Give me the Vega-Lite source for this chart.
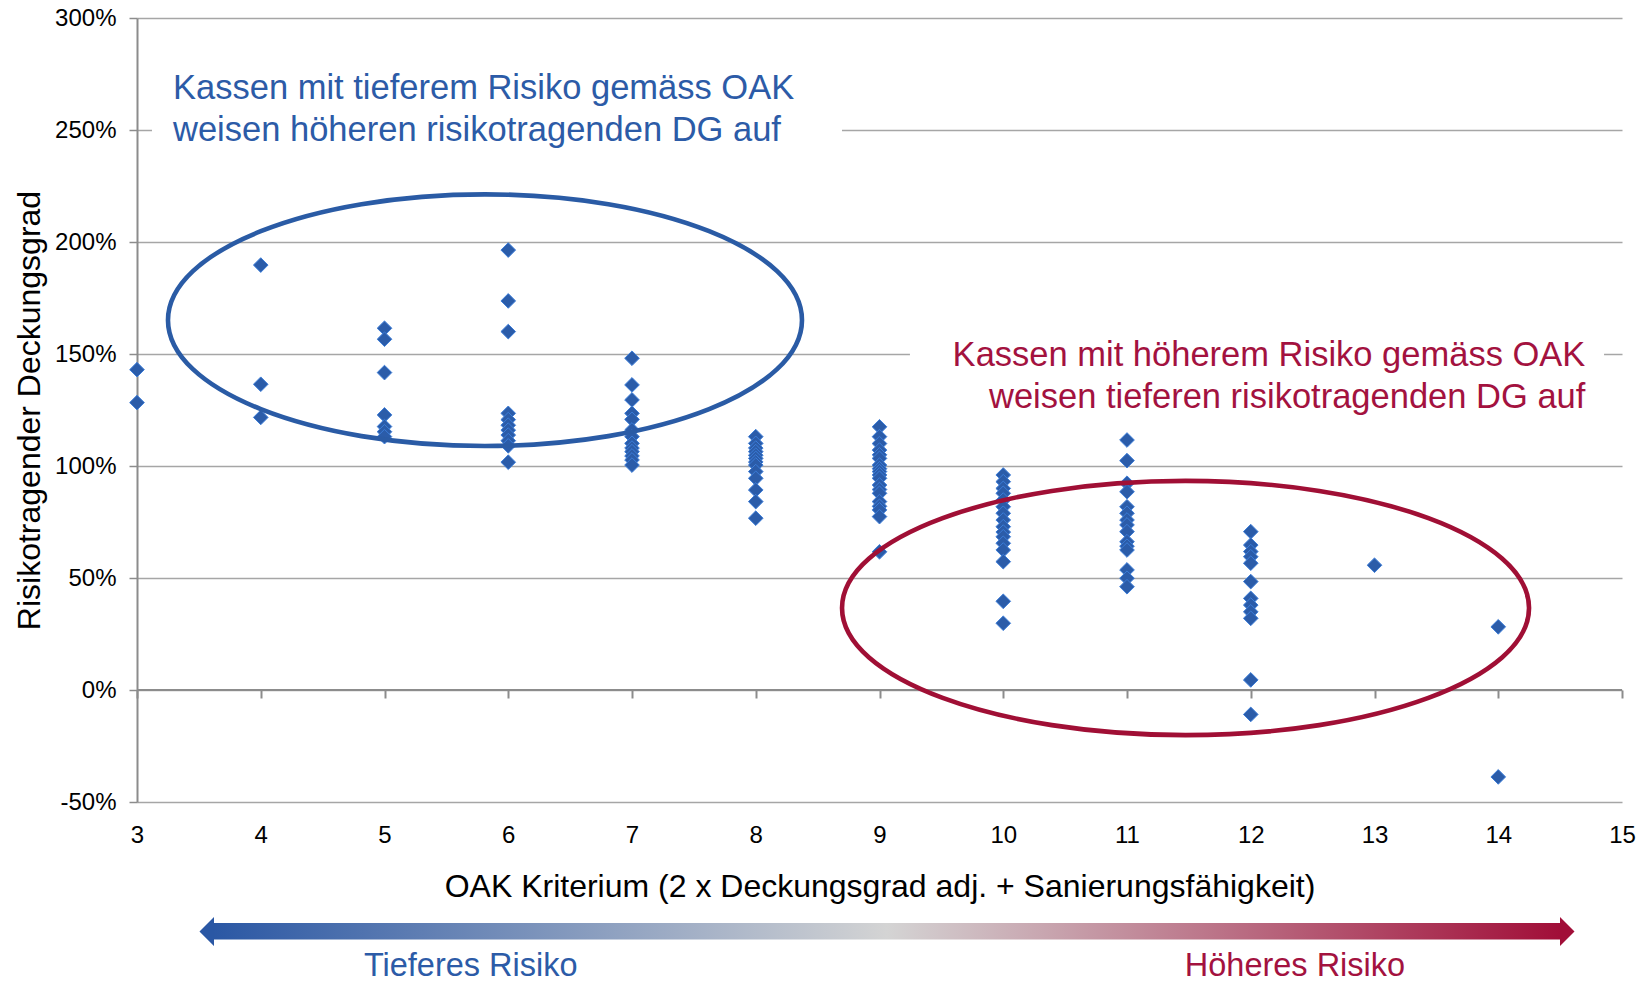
{
  "$schema": "https://vega.github.io/schema/vega-lite/v6.json",
  "autosize": {"type": "none"},
  "width": 1485,
  "height": 784,
  "padding": {"left": 137, "top": 18, "right": 22, "bottom": 180},
  "background": "white",
  "config": {
    "view": {"stroke": null},
    "font": "Liberation Sans",
    "axis": {"labelFont": "Liberation Sans", "titleFont": "Liberation Sans", "labelColor": "#000000", "titleColor": "#000000", "titleFontWeight": "normal"},
    "text": {"font": "Liberation Sans"}
  },
  "datasets": {
    "kassen": [
      {"oak": 3, "dg": 143}, {"oak": 3, "dg": 128.3},
      {"oak": 4, "dg": 189.7}, {"oak": 4, "dg": 136.5}, {"oak": 4, "dg": 121.7},
      {"oak": 5, "dg": 161.5}, {"oak": 5, "dg": 156.6}, {"oak": 5, "dg": 141.7}, {"oak": 5, "dg": 122.8}, {"oak": 5, "dg": 117.6}, {"oak": 5, "dg": 115.3}, {"oak": 5, "dg": 113.1},
      {"oak": 6, "dg": 196.4}, {"oak": 6, "dg": 173.7}, {"oak": 6, "dg": 160}, {"oak": 6, "dg": 123.5}, {"oak": 6, "dg": 120.7}, {"oak": 6, "dg": 118.2}, {"oak": 6, "dg": 116}, {"oak": 6, "dg": 113.8}, {"oak": 6, "dg": 111.3}, {"oak": 6, "dg": 109}, {"oak": 6, "dg": 101.7},
      {"oak": 7, "dg": 148.1}, {"oak": 7, "dg": 136.2}, {"oak": 7, "dg": 129.5}, {"oak": 7, "dg": 123.5}, {"oak": 7, "dg": 120.8}, {"oak": 7, "dg": 116.1}, {"oak": 7, "dg": 113.1}, {"oak": 7, "dg": 110.1}, {"oak": 7, "dg": 108}, {"oak": 7, "dg": 106.4}, {"oak": 7, "dg": 104.5}, {"oak": 7, "dg": 102.7}, {"oak": 7, "dg": 100.4},
      {"oak": 8, "dg": 113.1}, {"oak": 8, "dg": 110.1}, {"oak": 8, "dg": 108}, {"oak": 8, "dg": 106.4}, {"oak": 8, "dg": 104.8}, {"oak": 8, "dg": 103.4}, {"oak": 8, "dg": 101.8}, {"oak": 8, "dg": 100.4}, {"oak": 8, "dg": 97.5}, {"oak": 8, "dg": 94.5}, {"oak": 8, "dg": 89.3}, {"oak": 8, "dg": 84.1}, {"oak": 8, "dg": 76.7},
      {"oak": 9, "dg": 117.5}, {"oak": 9, "dg": 113.1}, {"oak": 9, "dg": 110}, {"oak": 9, "dg": 107.1}, {"oak": 9, "dg": 105}, {"oak": 9, "dg": 103.4}, {"oak": 9, "dg": 100.4}, {"oak": 9, "dg": 98.8}, {"oak": 9, "dg": 97.5}, {"oak": 9, "dg": 96}, {"oak": 9, "dg": 94.5}, {"oak": 9, "dg": 91.5}, {"oak": 9, "dg": 89.5}, {"oak": 9, "dg": 87.8}, {"oak": 9, "dg": 84.1}, {"oak": 9, "dg": 82}, {"oak": 9, "dg": 80.4}, {"oak": 9, "dg": 77.4}, {"oak": 9, "dg": 61.7},
      {"oak": 10, "dg": 96}, {"oak": 10, "dg": 93}, {"oak": 10, "dg": 90}, {"oak": 10, "dg": 87.8}, {"oak": 10, "dg": 84.8}, {"oak": 10, "dg": 81.8}, {"oak": 10, "dg": 78.9}, {"oak": 10, "dg": 75.9}, {"oak": 10, "dg": 72.9}, {"oak": 10, "dg": 70.5}, {"oak": 10, "dg": 68.4}, {"oak": 10, "dg": 65.5}, {"oak": 10, "dg": 62.5}, {"oak": 10, "dg": 57.3}, {"oak": 10, "dg": 39.6}, {"oak": 10, "dg": 29.8},
      {"oak": 11, "dg": 111.6}, {"oak": 11, "dg": 102.4}, {"oak": 11, "dg": 92.3}, {"oak": 11, "dg": 88.5}, {"oak": 11, "dg": 81.8}, {"oak": 11, "dg": 78.9}, {"oak": 11, "dg": 75.9}, {"oak": 11, "dg": 73.7}, {"oak": 11, "dg": 70.7}, {"oak": 11, "dg": 66.2}, {"oak": 11, "dg": 64.2}, {"oak": 11, "dg": 62.5}, {"oak": 11, "dg": 53.6}, {"oak": 11, "dg": 49.9}, {"oak": 11, "dg": 46.1},
      {"oak": 12, "dg": 70.7}, {"oak": 12, "dg": 64.7}, {"oak": 12, "dg": 61.8}, {"oak": 12, "dg": 59.5}, {"oak": 12, "dg": 56.6}, {"oak": 12, "dg": 48.4}, {"oak": 12, "dg": 40.9}, {"oak": 12, "dg": 37.9}, {"oak": 12, "dg": 34.9}, {"oak": 12, "dg": 32}, {"oak": 12, "dg": 4.5}, {"oak": 12, "dg": -10.9},
      {"oak": 13, "dg": 55.7},
      {"oak": 14, "dg": 28.2}, {"oak": 14, "dg": -38.8}
    ],
    "nulllinie": [{"oak": 3, "oak2": 15, "dg": 0}],
    "boxen": [
      {"oak": 3.121, "oak2": 8.697, "dg": 235, "dg2": 285},
      {"oak": 9.246, "oak2": 14.855, "dg": 130, "dg2": 170}
    ],
    "ellipsen": [
      {"oak": 5.812, "dg": 165.1, "seite": "tief"},
      {"oak": 11.473, "dg": 36.6, "seite": "hoch"}
    ],
    "notizen": [
      {"oak": 3.291, "dg": 263.7, "seite": "tief", "text": "Kassen mit tieferem Risiko gemäss OAK\nweisen höheren risikotragenden DG auf"},
      {"oak": 14.704, "dg": 144.8, "seite": "hoch", "text": "Kassen mit höherem Risiko gemäss OAK\nweisen tieferen risikotragenden DG auf"}
    ],
    "pfeil": [{"oak": 3.61, "oak2": 14.51, "dg": -104.0, "dg2": -111.4}],
    "spitzen": [
      {"oak": 3.622, "dg": -107.8, "seite": "tief"},
      {"oak": 14.499, "dg": -107.8, "seite": "hoch"}
    ],
    "risiko": [
      {"oak": 5.697, "dg": -127.9, "seite": "tief", "text": "Tieferes Risiko"},
      {"oak": 12.357, "dg": -127.9, "seite": "hoch", "text": "Höheres Risiko"}
    ]
  },
  "layer": [
    {
      "data": {"name": "nulllinie"},
      "mark": {"type": "rule", "color": "#8C8C8C", "strokeWidth": 2},
      "encoding": {
        "x": {"field": "oak", "type": "quantitative", "scale": {"domain": [3, 15], "nice": false, "zero": false},
              "axis": {"orient": "bottom", "offset": -112, "values": [3,4,5,6,7,8,9,10,11,12,13,14,15], "labels": false, "grid": false, "domain": false, "ticks": true, "tickSize": 8, "tickWidth": 2, "tickColor": "#8C8C8C", "title": null}},
        "x2": {"field": "oak2"},
        "y": {"field": "dg", "type": "quantitative", "scale": {"domain": [-50, 300], "nice": false},
              "axis": {"orient": "left", "values": [-50, 0, 50, 100, 150, 200, 250, 300], "labelExpr": "datum.value + '%'", "grid": true, "gridColor": "#A6A6A6", "gridWidth": 1.3, "domain": true, "domainColor": "#8C8C8C", "domainWidth": 2, "ticks": true, "tickColor": "#8C8C8C", "tickWidth": 1.5, "tickSize": 8, "labelPadding": 13, "labelFontSize": 24, "titleFontSize": 32, "titlePadding": 8, "title": "Risikotragender Deckungsgrad"}}
      }
    },
    {
      "encoding": {
        "x": {"field": "oak", "type": "quantitative", "scale": {"domain": [3, 15], "nice": false, "zero": false},
              "axis": {"orient": "bottom", "values": [3,4,5,6,7,8,9,10,11,12,13,14,15], "grid": false, "domain": false, "ticks": false, "tickSize": 0, "labelPadding": 21, "labelFontSize": 24, "labelFlush": false, "titleFontSize": 32, "titlePadding": 24, "title": "OAK Kriterium (2 x Deckungsgrad adj. + Sanierungsfähigkeit)"}},
        "y": {"field": "dg", "type": "quantitative", "scale": {"domain": [-50, 300], "nice": false},
              "axis": {"orient": "left", "values": [-50, 0, 50, 100, 150, 200, 250, 300], "labelExpr": "datum.value + '%'", "grid": true, "gridColor": "#A6A6A6", "gridWidth": 1.3, "domain": true, "domainColor": "#8C8C8C", "domainWidth": 2, "ticks": true, "tickColor": "#8C8C8C", "tickWidth": 1.5, "tickSize": 8, "labelPadding": 13, "labelFontSize": 24, "titleFontSize": 32, "titlePadding": 8, "title": "Risikotragender Deckungsgrad"}}
      },
      "layer": [
        {
          "data": {"name": "boxen"},
          "mark": {"type": "rect", "fill": "white", "stroke": null},
          "encoding": {"x2": {"field": "oak2"}, "y2": {"field": "dg2"}}
        },
        {
          "data": {"name": "kassen"},
          "mark": {"type": "point", "shape": "diamond", "filled": true, "size": 215, "fill": "#2B5CA9", "stroke": "#3C7DD8", "strokeWidth": 1, "opacity": 1}
        },
        {
          "data": {"name": "ellipsen"},
          "transform": [{"filter": "datum.seite === 'tief'"}],
          "mark": {"type": "point", "shape": "M -1 0 A 1 0.397 0 1 0 1 0 A 1 0.397 0 1 0 -1 0 Z", "size": 401956, "filled": false, "fill": null, "stroke": "#2A5BA5", "strokeWidth": 4.6, "opacity": 1}
        },
        {
          "data": {"name": "ellipsen"},
          "transform": [{"filter": "datum.seite === 'hoch'"}],
          "mark": {"type": "point", "shape": "M -1 0 A 1 0.370 0 1 0 1 0 A 1 0.370 0 1 0 -1 0 Z", "size": 471969, "filled": false, "fill": null, "stroke": "#A00F35", "strokeWidth": 4.6, "opacity": 1}
        },
        {
          "data": {"name": "notizen"},
          "transform": [{"filter": "datum.seite === 'tief'"}],
          "mark": {"type": "text", "align": "left", "baseline": "alphabetic", "fontSize": 34.5, "lineHeight": 42, "lineBreak": "\n", "color": "#2C5BA7"},
          "encoding": {"text": {"field": "text"}}
        },
        {
          "data": {"name": "notizen"},
          "transform": [{"filter": "datum.seite === 'hoch'"}],
          "mark": {"type": "text", "align": "right", "baseline": "alphabetic", "fontSize": 34.5, "lineHeight": 42, "lineBreak": "\n", "color": "#A3123F"},
          "encoding": {"text": {"field": "text"}}
        },
        {
          "data": {"name": "pfeil"},
          "mark": {"type": "rect", "fill": {"gradient": "linear", "x1": 0, "x2": 1, "y1": 0, "y2": 0, "stops": [{"offset": 0, "color": "#2A57A4"}, {"offset": 0.5, "color": "#D4D4D4"}, {"offset": 1, "color": "#A10E38"}]}},
          "encoding": {"x2": {"field": "oak2"}, "y2": {"field": "dg2"}}
        },
        {
          "data": {"name": "spitzen"},
          "transform": [{"filter": "datum.seite === 'tief'"}],
          "mark": {"type": "point", "shape": "M -1 0 L 0 -1 L 0 1 Z", "size": 841, "filled": true, "fill": "#2A57A4", "stroke": null, "opacity": 1}
        },
        {
          "data": {"name": "spitzen"},
          "transform": [{"filter": "datum.seite === 'hoch'"}],
          "mark": {"type": "point", "shape": "M 1 0 L 0 -1 L 0 1 Z", "size": 841, "filled": true, "fill": "#A10E38", "stroke": null, "opacity": 1}
        },
        {
          "data": {"name": "risiko"},
          "mark": {"type": "text", "align": "center", "baseline": "alphabetic", "fontSize": 32.5},
          "encoding": {
            "text": {"field": "text"},
            "color": {"field": "seite", "type": "nominal", "scale": {"domain": ["tief", "hoch"], "range": ["#2C5BA7", "#A3123F"]}, "legend": null}
          }
        }
      ]
    }
  ],
  "resolve": {"axis": {"x": "independent", "y": "shared"}}
}
